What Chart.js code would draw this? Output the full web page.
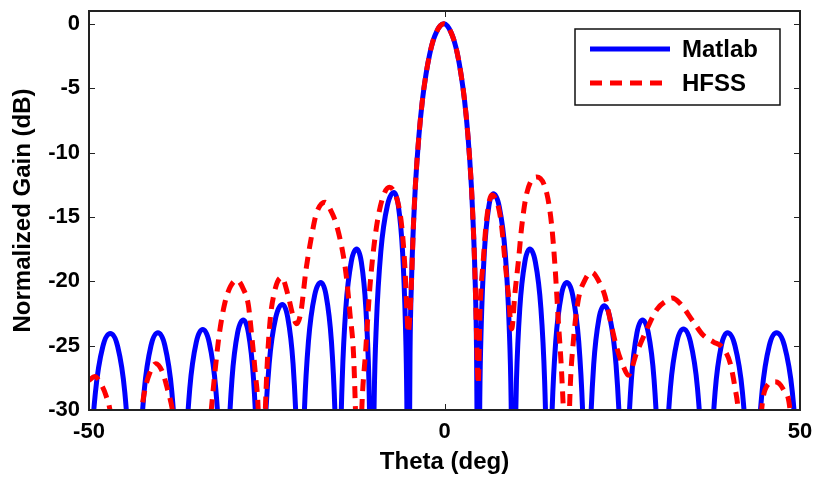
<!DOCTYPE html>
<html lang="en">
<head>
    <meta charset="UTF-8">
    <title>Array Pattern</title>
    <script src="https://cdn.jsdelivr.net/npm/chart.js"></script>
    <style>
        body{
            margin: 0;
            background-color: white;
        }
        #box{
            width: 815px;
            height: 478px;
        }
    </style>
</head>
<body>

<div id="box">
    <canvas id="patternChart" width="815" height="478"></canvas>
</div>

<script>
    // Matlab array factor (deg, dB)
    const thetaMatlab = [
        -50.0, -49.8, -49.1, -48.05, -47.0, -45.97, -44.96, -44.28, -43.9, -43.55,
        -43.23, -42.9, -42.25, -41.28, -40.3, -39.33, -38.35, -37.7, -37.38, -37.05,
        -36.75, -36.44, -35.83, -34.92, -34.0, -33.09, -32.17, -31.56, -31.26, -30.95,
        -30.69, -30.42, -29.89, -29.1, -28.3, -27.58, -26.86, -26.38, -26.14, -25.9,
        -25.59, -25.28, -24.66, -23.73, -22.8, -22.05, -21.3, -20.8, -20.55, -20.3,
        -20.01, -19.72, -19.14, -18.27, -17.4, -16.65, -15.9, -15.4, -15.15, -14.9,
        -14.65, -14.39, -13.88, -13.12, -12.35, -11.7, -11.06, -10.63, -10.42, -10.2,
        -9.89, -9.58, -8.96, -8.03, -7.1, -6.5, -5.9, -5.5, -5.3, -5.1,
        -4.85, -4.6, -4.35, -4.1, -3.6, -3.1, -2.6, -2.1, -1.6, -1.1, -0.6, -0.1,
        0.4, 0.87, 1.35, 1.84, 2.32, 2.81, 3.3, 3.78, 4.02, 4.27, 4.51, 4.75,
        4.96, 5.17, 5.6, 6.23, 6.87, 7.7, 8.54, 9.09, 9.37, 9.65,
        9.89, 10.12, 10.59, 11.3, 12.0, 12.78, 13.56, 14.08, 14.34, 14.6,
        14.86, 15.12, 15.64, 16.42, 17.2, 18.04, 18.88, 19.44, 19.72, 20.0,
        20.25, 20.49, 20.98, 21.72, 22.45, 23.29, 24.13, 24.69, 24.97, 25.25,
        25.51, 25.77, 26.29, 27.07, 27.85, 28.66, 29.47, 30.01, 30.28, 30.55,
        30.86, 31.16, 31.77, 32.69, 33.6, 34.59, 35.58, 36.24, 36.57, 36.9,
        37.19, 37.48, 38.06, 38.93, 39.8, 40.85, 41.9, 42.6, 42.95, 43.3,
        43.64, 43.98, 44.66, 45.68, 46.7, 47.81, 48.92, 49.66, 50.0
    ];
    const gainMatlab = [
        -38.0, -34.25, -28.65, -25.05, -24.05, -25.05, -28.65, -34.25, -40.1, -45,
        -40.1, -34.2, -28.6, -25.0, -24.0, -25.0, -28.6, -34.2, -40.1, -45,
        -39.85, -33.95, -28.35, -24.75, -23.75, -24.75, -28.35, -33.95, -39.85, -45,
        -39.1, -33.2, -27.6, -24.0, -23.0, -24.0, -27.6, -33.2, -39.1, -45,
        -37.9, -32.0, -26.4, -22.8, -21.8, -22.8, -26.4, -32.0, -37.9, -45,
        -36.2, -30.3, -24.7, -21.1, -20.1, -21.1, -24.7, -30.3, -36.2, -45,
        -33.6, -27.7, -22.1, -18.5, -17.5, -18.5, -22.1, -27.7, -33.6, -45,
        -29.2, -23.3, -17.7, -14.1, -13.1, -14.1, -17.7, -23.3, -29.2, -45,
        -25.6, -19.2, -15.4, -12.6, -8.7, -5.9, -3.9, -2.4, -1.3, -0.6, -0.15, 0,
        -0.15, -0.6, -1.3, -2.4, -3.9, -5.9, -8.7, -12.6, -15.4, -19.2, -25.6, -45,
        -29.3, -23.4, -17.8, -14.2, -13.2, -14.2, -17.8, -23.4, -29.3, -45,
        -33.6, -27.7, -22.1, -18.5, -17.5, -18.5, -22.1, -27.7, -33.6, -45,
        -36.2, -30.3, -24.7, -21.1, -20.1, -21.1, -24.7, -30.3, -36.2, -45,
        -38.0, -32.1, -26.5, -22.9, -21.9, -22.9, -26.5, -32.1, -38.0, -45,
        -39.1, -33.2, -27.6, -24.0, -23.0, -24.0, -27.6, -33.2, -39.1, -45,
        -39.8, -33.9, -28.3, -24.7, -23.7, -24.7, -28.3, -33.9, -39.8, -45,
        -40.1, -34.2, -28.6, -25.0, -24.0, -25.0, -28.6, -34.2, -40.1, -45,
        -40.1, -34.2, -28.6, -25.0, -24.0, -25.0, -28.6, -34.2, -39.0
    ];

    // HFSS simulated pattern (deg, dB)
    const thetaHfss = [
        -50.0, -49.2, -48.4, -47.6, -46.9, -46.3, -45.3,
        -43.6, -42.8, -42.2, -41.5, -40.6, -39.7, -39.0, -38.3, -37.6, -36.8, -35.3,
        -33.8, -33.2, -32.7, -32.2, -31.7, -30.9, -30.1, -29.2, -28.3, -27.6, -27.1, -26.6, -26.2, -25.9, -25.7,
        -25.45, -25.1, -24.6, -23.9, -22.9, -22.0, -21.3, -20.8, -20.2, -19.5, -18.7, -18.0, -16.8,
        -15.9, -15.2, -14.2, -13.75, -13.3, -12.8, -12.55, -12.35, -12.1,
        -11.85, -11.6, -11.1, -10.5, -9.7, -8.8, -7.75, -6.6, -6.0, -5.55, -5.3, -5.1,
        -4.85, -4.6, -4.35, -4.1, -3.6, -3.1, -2.6, -2.1, -1.6, -1.1, -0.6, -0.1,
        0.4, 0.87, 1.35, 1.84, 2.32, 2.81, 3.3, 3.78, 4.02, 4.27, 4.5, 4.75,
        5.0, 5.45, 5.9, 6.64, 7.57, 8.05, 8.5, 8.97, 9.45,
        9.9, 10.4, 10.85, 11.55, 12.97, 14.4, 15.1, 15.55, 16.0, 16.5, 16.9, 17.15,
        17.45, 17.65, 18.1, 18.8, 19.75, 20.7, 21.9, 22.6, 23.3, 24.2, 25.15, 25.85,
        27.0, 28.4, 29.85, 31.25, 32.0, 33.1, 35.0, 36.4, 37.8, 39.2, 40.2, 40.9, 41.3, 41.8, 43.0,
        44.0, 44.6, 45.1, 46.5, 47.65, 48.6, 49.2, 50.0
    ];
    const gainHfss = [
        -27.7, -27.4, -27.9, -28.9, -30.6, -35, -45,
        -36, -31, -28.6, -27.2, -26.4, -27.0, -28.3, -29.9, -32.5, -38, -45,
        -38, -32.5, -29.4, -26.6, -24.2, -21.7, -20.4, -19.9, -20.6, -21.8, -24.3, -27.2, -30.0, -36, -42,
        -35, -28.5, -23.5, -20.8, -19.7, -21.1, -22.7, -23.3, -22.4, -19.2, -16.5, -14.7, -13.85,
        -14.6, -15.6, -18.1, -19.9, -22.5, -25.6, -29.5, -34, -40,
        -34, -29.5, -25.5, -20.5, -16.3, -13.7, -12.7, -13.8, -15.8, -19.1, -22.2, -24.0,
        -22.5, -19.4, -15.4, -12.6, -8.7, -5.9, -3.9, -2.4, -1.3, -0.6, -0.15, 0,
        -0.15, -0.6, -1.3, -2.4, -3.9, -5.9, -8.7, -12.6, -15.4, -19.2, -24.0, -28.0,
        -22.2, -18.4, -15.3, -13.3, -14.2, -15.8, -18.4, -20.95, -23.7,
        -20.95, -18.4, -15.8, -13.2, -11.9, -13.2, -15.8, -18.9, -23.0, -27.4, -33, -40,
        -33, -28.7, -24.8, -21.5, -19.9, -19.3, -20.2, -21.2, -23.0, -25.1, -26.6, -27.3,
        -25.6, -23.8, -22.2, -21.5, -21.3, -21.7, -23.15, -24.2, -24.7, -25.2, -26.4, -28.4, -30, -35, -45,
        -35, -30, -28.4, -27.8, -28.4, -30, -35, -45
    ];

    const xTicks = [-50, 0, 50];
    const yTicks = [-30, -25, -20, -15, -10, -5, 0];

    const FONT = "'Liberation Sans', Arial, Helvetica, sans-serif";

    function toPoints(xs, ys) {
        return xs.map((x, i) => ({ x: x, y: ys[i] }));
    }

    // the plot box is placed by layout.padding only, not by label overhang
    function noLabelPadding(scale) {
        scale.paddingTop = 0;
        scale.paddingBottom = 0;
        scale.paddingLeft = 0;
        scale.paddingRight = 0;
    }

    // axes box with inward ticks on all four sides
    const boxPlugin = {
        id: 'box',
        afterDatasetsDraw(chart) {
            const ctx = chart.ctx;
            const a = chart.chartArea;
            const xs = chart.scales.x;
            const ys = chart.scales.y;
            const len = 6;
            ctx.save();
            ctx.strokeStyle = '#222';
            ctx.lineWidth = 1;
            ctx.beginPath();
            yTicks.forEach(v => {
                const py = Math.round(ys.getPixelForValue(v)) + 0.5;
                ctx.moveTo(a.left, py); ctx.lineTo(a.left + len, py);
                ctx.moveTo(a.right, py); ctx.lineTo(a.right - len, py);
            });
            xTicks.forEach(v => {
                const px = Math.round(xs.getPixelForValue(v)) + 0.5;
                ctx.moveTo(px, a.bottom); ctx.lineTo(px, a.bottom - len);
                ctx.moveTo(px, a.top); ctx.lineTo(px, a.top + len);
            });
            ctx.stroke();
            ctx.lineWidth = 2;
            ctx.strokeRect(a.left, a.top, a.right - a.left, a.bottom - a.top);
            ctx.restore();
        }
    };

    // legend in the upper right corner of the plot
    const legendPlugin = {
        id: 'innerLegend',
        afterDraw(chart) {
            const ctx = chart.ctx;
            const a = chart.chartArea;
            const w = 205, h = 76;
            const left = a.right - 225;
            const top = a.top + 18;
            ctx.save();
            ctx.fillStyle = 'white';
            ctx.fillRect(left, top, w, h);
            ctx.strokeStyle = '#111';
            ctx.lineWidth = 1.5;
            ctx.strokeRect(left, top, w, h);
            chart.data.datasets.forEach((ds, i) => {
                const y = top + 20 + i * 34;
                ctx.beginPath();
                ctx.strokeStyle = ds.borderColor;
                ctx.lineWidth = ds.borderWidth;
                ctx.setLineDash(ds.borderDash || []);
                ctx.moveTo(left + 15, y);
                ctx.lineTo(left + 95, y);
                ctx.stroke();
                ctx.setLineDash([]);
                ctx.fillStyle = 'black';
                ctx.font = 'bold 24px ' + FONT;
                ctx.textBaseline = 'middle';
                ctx.textAlign = 'left';
                ctx.fillText(ds.label, left + 107, y + 1);
            });
            ctx.restore();
        }
    };

    const ctx = document.getElementById('patternChart').getContext('2d');
    new Chart(ctx, {
        type: 'line',
        data: {
            datasets: [{
                label: 'Matlab',
                data: toPoints(thetaMatlab, gainMatlab),
                borderColor: '#0000ff',
                borderWidth: 5,
                borderJoinStyle: 'round',
                pointRadius: 0,
                cubicInterpolationMode: 'monotone',
                clip: 0,
                order: 2
            }, {
                label: 'HFSS',
                data: toPoints(thetaHfss, gainHfss),
                borderColor: '#ff0000',
                borderWidth: 5,
                borderDash: [12, 8],
                borderCapStyle: 'butt',
                pointRadius: 0,
                cubicInterpolationMode: 'monotone',
                clip: 0,
                order: 1
            }]
        },
        options: {
            responsive: false,
            animation: false,
            layout: { padding: { top: 11, right: 15, left: 0, bottom: 0 } },
            plugins: {
                legend: { display: false },
                tooltip: { enabled: false }
            },
            scales: {
                x: {
                    type: 'linear',
                    min: -50,
                    max: 50,
                    afterFit(scale) { scale.height = 68; noLabelPadding(scale); },
                    grid: { display: false, drawTicks: false },
                    border: { display: false },
                    ticks: {
                        stepSize: 50,
                        includeBounds: false,
                        autoSkip: false,
                        maxRotation: 0,
                        padding: 9,
                        color: 'black',
                        font: { family: FONT, size: 22, weight: 'bold' }
                    },
                    title: {
                        display: true,
                        text: 'Theta (deg)',
                        color: 'black',
                        padding: { top: 0, bottom: 1 },
                        font: { family: FONT, size: 24, weight: 'bold' }
                    }
                },
                y: {
                    min: -30,
                    max: 1,
                    afterFit(scale) { scale.width = 89; noLabelPadding(scale); },
                    grid: { display: false, drawTicks: false },
                    border: { display: false },
                    ticks: {
                        stepSize: 5,
                        includeBounds: false,
                        padding: 9,
                        color: 'black',
                        font: { family: FONT, size: 22, weight: 'bold' }
                    },
                    title: {
                        display: true,
                        text: 'Normalized Gain (dB)',
                        color: 'black',
                        padding: { top: 9, bottom: 0 },
                        font: { family: FONT, size: 24, weight: 'bold' }
                    }
                }
            }
        },
        plugins: [boxPlugin, legendPlugin]
    });
</script>
</body>
</html>
